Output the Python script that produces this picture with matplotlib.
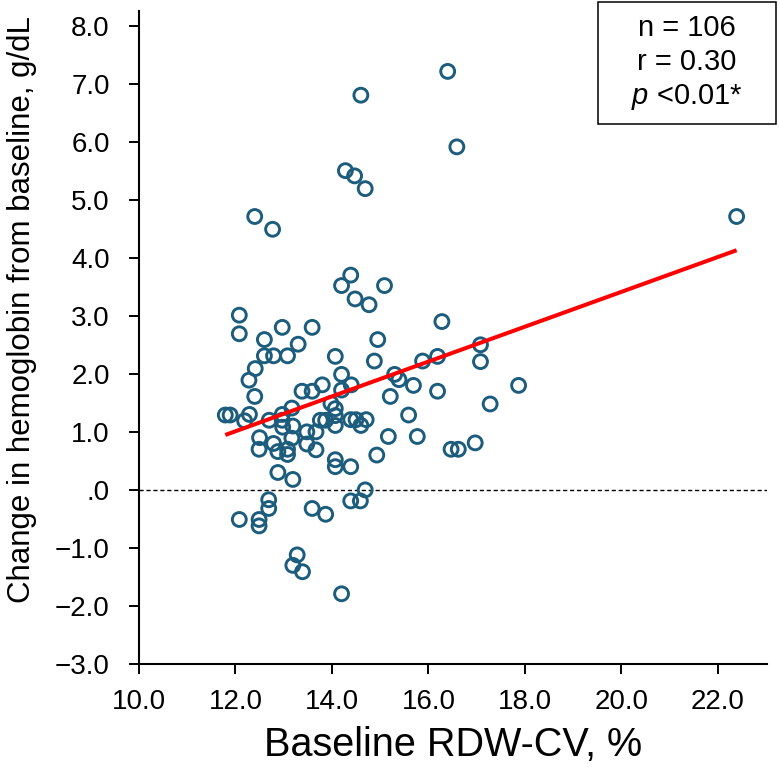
import numpy as np
import matplotlib
matplotlib.use("Agg")
import matplotlib.pyplot as plt
from matplotlib.patches import Rectangle

plt.rcParams['font.family'] = ['Liberation Sans', 'DejaVu Sans']
plt.rcParams['mathtext.fontset'] = 'custom'
plt.rcParams['mathtext.it'] = 'Liberation Sans:italic'
plt.rcParams['mathtext.rm'] = 'Liberation Sans'

# baseline RDW-CV (%) and change in hemoglobin (g/dL)
rdw = [16.40, 14.60, 16.59, 14.28, 14.47, 14.69, 12.40, 12.77, 22.39, 14.39,
       14.20, 15.09, 14.48, 14.77, 12.08, 12.08, 12.97, 13.59, 12.60, 13.30,
       12.60, 12.79, 13.08, 14.07, 14.95, 14.88, 16.28, 15.88, 16.19, 17.08,
       17.08, 12.41, 12.28, 14.20, 15.30, 15.39, 12.40, 13.38, 13.59, 13.80,
       14.40, 14.20, 15.69, 17.87, 16.19, 15.21, 17.28, 13.98, 14.07, 14.07,
       15.59, 11.79, 11.89, 12.29, 12.19, 12.70, 12.97, 13.17, 12.97, 12.98,
       13.19, 14.07, 13.76, 13.87, 14.39, 14.50, 14.71, 14.60, 12.50, 13.48,
       13.67, 12.49, 12.79, 12.88, 13.08, 13.08, 13.17, 13.48, 13.67, 14.07,
       14.07, 14.39, 14.93, 12.88, 13.19, 14.69, 12.69, 12.69, 14.39, 14.59,
       13.59, 13.87, 12.08, 12.49, 12.49, 13.28, 13.19, 13.39, 14.20, 15.17,
       15.77, 16.97, 16.47, 16.62]
hb_change = [7.21, 6.80, 5.91, 5.50, 5.41, 5.19, 4.71, 4.49, 4.71, 3.70,
             3.52, 3.52, 3.29, 3.19, 3.01, 2.69, 2.80, 2.80, 2.59, 2.51,
             2.31, 2.31, 2.31, 2.30, 2.59, 2.22, 2.90, 2.22, 2.30, 2.50,
             2.21, 2.09, 1.89, 1.99, 1.99, 1.90, 1.61, 1.70, 1.70, 1.81,
             1.81, 1.72, 1.80, 1.80, 1.70, 1.61, 1.48, 1.49, 1.40, 1.28,
             1.29, 1.29, 1.29, 1.30, 1.19, 1.20, 1.30, 1.41, 1.20, 1.08,
             1.10, 1.11, 1.20, 1.20, 1.21, 1.21, 1.21, 1.11, 0.90, 1.00,
             1.00, 0.70, 0.80, 0.66, 0.70, 0.61, 0.89, 0.79, 0.69, 0.52,
             0.40, 0.40, 0.60, 0.30, 0.18, 0.00, -0.17, -0.32, -0.19, -0.19,
             -0.32, -0.42, -0.51, -0.51, -0.62, -1.12, -1.30, -1.41, -1.79, 0.92,
             0.92, 0.81, 0.70, 0.70]

x_ticks = [10, 12, 14, 16, 18, 20, 22]
x_ticklabels = ['10.0', '12.0', '14.0', '16.0', '18.0', '20.0', '22.0']
y_ticks = [8, 7, 6, 5, 4, 3, 2, 1, 0, -1, -2, -3]
y_ticklabels = ['8.0', '7.0', '6.0', '5.0', '4.0', '3.0', '2.0', '1.0', '.0',
                '\u22121.0', '\u22122.0', '\u22123.0']
stats_lines = ['n = 106', 'r = 0.30', '$\\mathit{p}$ <0.01*']

x = np.array(rdw)
y = np.array(hb_change)

fig = plt.figure(figsize=(7.79, 7.77), dpi=100)
ax = fig.add_axes([0.1784, 0.1454, 0.8062, 0.8404])

ax.axhline(0, color='black', lw=1.0, ls=(0, (3, 2)), zorder=1)
ax.scatter(x, y, s=100, facecolors='none', edgecolors='#1c5c7c', linewidths=2.1, zorder=3)

# least-squares line over the data range
slope, intercept = np.polyfit(x, y, 1)
xs = np.array([x.min(), x.max()])
ax.plot(xs, slope * xs + intercept, color='#ff0000', lw=2.9, zorder=4, solid_capstyle='butt')

ax.set_xlim(10, 23.02)
ax.set_ylim(-3, 8.25)
ax.set_xticks(x_ticks)
ax.set_xticklabels(x_ticklabels)
ax.set_yticks(y_ticks)
ax.set_yticklabels(y_ticklabels)
ax.tick_params(axis='both', direction='out', length=7, width=1.4, labelsize=20, color='black')
ax.tick_params(axis='x', pad=11)
ax.tick_params(axis='y', pad=14)
for side in ['top', 'right']:
    ax.spines[side].set_visible(False)
for side in ['left', 'bottom']:
    ax.spines[side].set_linewidth(1.5)
ax.spines['bottom'].set_zorder(5)

fig.text(453 / 779, 1 - 745 / 777, 'Baseline RDW-CV, %', ha='center', va='center', fontsize=28.5)
fig.text(22 / 779, 1 - 310 / 777, 'Change in hemoglobin from baseline, g/dL',
         ha='center', va='center', rotation=90, fontsize=22.5)

# stats box
fig.patches.append(Rectangle((598 / 779, 1 - 124 / 777), 177.5 / 779, 122 / 777,
                             transform=fig.transFigure, fill=False, edgecolor='black', lw=1.1))
for i, line in enumerate(stats_lines):
    fig.text(686.5 / 779, 1 - (28 + 34.5 * i) / 777, line, ha='center', va='center', fontsize=21)

fig.savefig('out.png', dpi=100)
